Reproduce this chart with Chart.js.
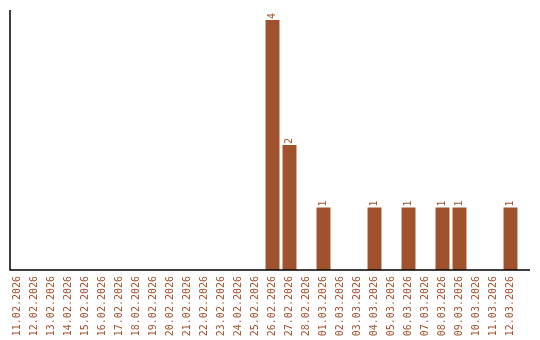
<!DOCTYPE html>
<html>
<head>
<meta charset="utf-8">
<script src="https://cdn.jsdelivr.net/npm/chart.js@4"></script>
<style>
  html, body { margin: 0; padding: 0; background: #fff; }
  #wrap { width: 540px; height: 340px; }
</style>
</head>
<body>
<div id="wrap"><canvas id="myChart" width="540" height="340"></canvas></div>
<script>
const days = [
  '11.02.2026', '12.02.2026', '13.02.2026', '14.02.2026', '15.02.2026',
  '16.02.2026', '17.02.2026', '18.02.2026', '19.02.2026', '20.02.2026',
  '21.02.2026', '22.02.2026', '23.02.2026', '24.02.2026', '25.02.2026',
  '26.02.2026', '27.02.2026', '28.02.2026', '01.03.2026', '02.03.2026',
  '03.03.2026', '04.03.2026', '05.03.2026', '06.03.2026', '07.03.2026',
  '08.03.2026', '09.03.2026', '10.03.2026', '11.03.2026', '12.03.2026'
];
const counts = [
  0, 0, 0, 0, 0,
  0, 0, 0, 0, 0,
  0, 0, 0, 0, 0,
  4, 2, 0, 1, 0,
  0, 1, 0, 1, 0,
  1, 1, 0, 0, 1
];

const brown = '#a0522d';
const smallFont = { family: 'DejaVu Sans Mono', size: 10 };

// value labels above the bars, turned on their side
const barLabels = {
  id: 'barLabels',
  afterDatasetsDraw(chart) {
    const c = chart.ctx;
    const meta = chart.getDatasetMeta(0);
    c.save();
    c.fillStyle = brown;
    c.font = '10px "DejaVu Sans Mono"';
    c.textAlign = 'left';
    c.textBaseline = 'middle';
    meta.data.forEach((bar, i) => {
      if (!counts[i]) return;
      c.save();
      c.translate(bar.x, bar.y - 1);
      c.rotate(-Math.PI / 2);
      c.fillText(String(counts[i]), 0, 0);
      c.restore();
    });
    c.restore();
  }
};

// plain black axis lines
const axisLines = {
  id: 'axisLines',
  afterDraw(chart) {
    const a = chart.chartArea;
    const c = chart.ctx;
    c.save();
    c.strokeStyle = '#000';
    c.lineWidth = 1.5;
    c.beginPath();
    c.moveTo(a.left + 1, a.top);
    c.lineTo(a.left + 1, a.bottom);
    c.lineTo(a.right + 11, a.bottom);
    c.stroke();
    c.restore();
  }
};

const ctx = document.getElementById('myChart');

let chart = new Chart(ctx, {
  type: 'bar',
  data: {
    labels: days,
    datasets: [{
      data: counts,
      backgroundColor: brown,
      borderWidth: 0,
      barPercentage: 0.82,
      categoryPercentage: 1
    }]
  },
  options: {
    responsive: false,
    animation: false,
    layout: { padding: { left: 9, top: 10, right: 21, bottom: 0 } },
    plugins: {
      legend: { display: false },
      tooltip: { enabled: false }
    },
    scales: {
      x: {
        grid: { display: false, drawTicks: false },
        border: { display: false },
        ticks: {
          color: brown,
          font: smallFont,
          minRotation: 90,
          maxRotation: 90,
          autoSkip: false,
          padding: 6
        },
        afterFit(scale) { scale.height = 70; }
      },
      y: {
        display: false,
        min: 0,
        max: 4.16
      }
    }
  },
  plugins: [barLabels, axisLines]
});
</script>
</body>
</html>
